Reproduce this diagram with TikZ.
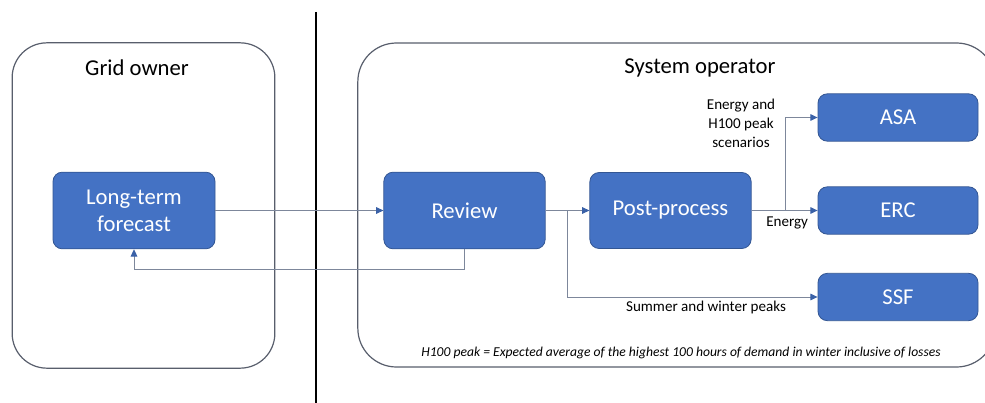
\documentclass[tikz,border=0pt]{standalone}
\usepackage{fontspec}
\setmainfont{Carlito}
\usetikzlibrary{arrows.meta,positioning}
\definecolor{boxblue}{RGB}{68,114,196}
\definecolor{linegrey}{RGB}{125,135,155}
\definecolor{framegrey}{RGB}{88,94,108}

\begin{document}
\begin{tikzpicture}[x=0.75pt,y=-0.75pt,->,>={Triangle[length=5.5pt,width=5pt,color=boxblue!85!black]},
            thick,
            frame/.style={rectangle,draw=framegrey,line width=0.9pt,rounded corners=26pt},
            title/.style={font=\fontsize{17}{19}\selectfont},
            block/.style={rectangle,rounded corners=7pt,draw=boxblue!75!black,line width=0.6pt,
                fill=boxblue,text=white,align=center,inner sep=0pt,
                font=\fontsize{17}{20.5}\selectfont},
            flow/.style={draw=linegrey,line width=0.75pt},
            flow label/.style={font=\fontsize{11.3}{14.3}\selectfont,align=center}]

        \clip (0,0) rectangle (985,403);

        % Define lanes
        \node[frame,minimum width=197pt,minimum height=244pt] (owner) at (143.5,205.5) {};
        \node[frame,rounded corners=29pt,minimum width=478pt,minimum height=243pt] (operator) at (676.5,205) {};
        \node[title] (ownertitle) at (137,68) {Grid owner};
        \node[title] (operatortitle) at (700,68) {System operator};
        \draw[-,line width=2.2pt] (316,12) -- (316,403);

        % Define vertices
        \node[block,minimum width=121.5pt,minimum height=57.5pt] (forecast) at (134,210.5) {Long-term\\forecast};
        \node[block,minimum width=121pt,minimum height=57.5pt] (review) at (464.5,210.5) {Review};
        \node[block,minimum width=121pt,minimum height=57pt] (post) at (670.5,210.5) {Post-process};
        \node[block,minimum width=120pt,minimum height=35.5pt] (asa) at (898,117.5) {ASA};
        \node[block,minimum width=120pt,minimum height=35.5pt] (erc) at (898,210.5) {ERC};
        \node[block,minimum width=120pt,minimum height=35.5pt] (ssf) at (898,297) {SSF};
        \coordinate (split1) at (567,210.5);
        \coordinate (split2) at (785,210.5);

        % Draw edges
        \path[flow]
            (forecast) edge (review)
            (review) edge (post)
            (post) edge (erc);
        \draw[flow] (review.south) -- ++(0,20) -| (forecast.south);
        \draw[flow] (split1) |- (ssf);
        \draw[flow] (split2) |- (asa);

        % Labels
        \node[flow label] (l1) at (741,123) {Energy and\\H100 peak\\scenarios};
        \node[flow label,anchor=east] (l2) at (813,223) {Energy};
        \node[flow label] (l3) at (706,307) {Summer and winter peaks};
        \node[font=\fontsize{10.2}{12}\itshape] (note) at (681,353) {H100 peak = Expected average of the highest 100 hours of demand in winter inclusive of losses};

        \end{tikzpicture}
\end{document}
